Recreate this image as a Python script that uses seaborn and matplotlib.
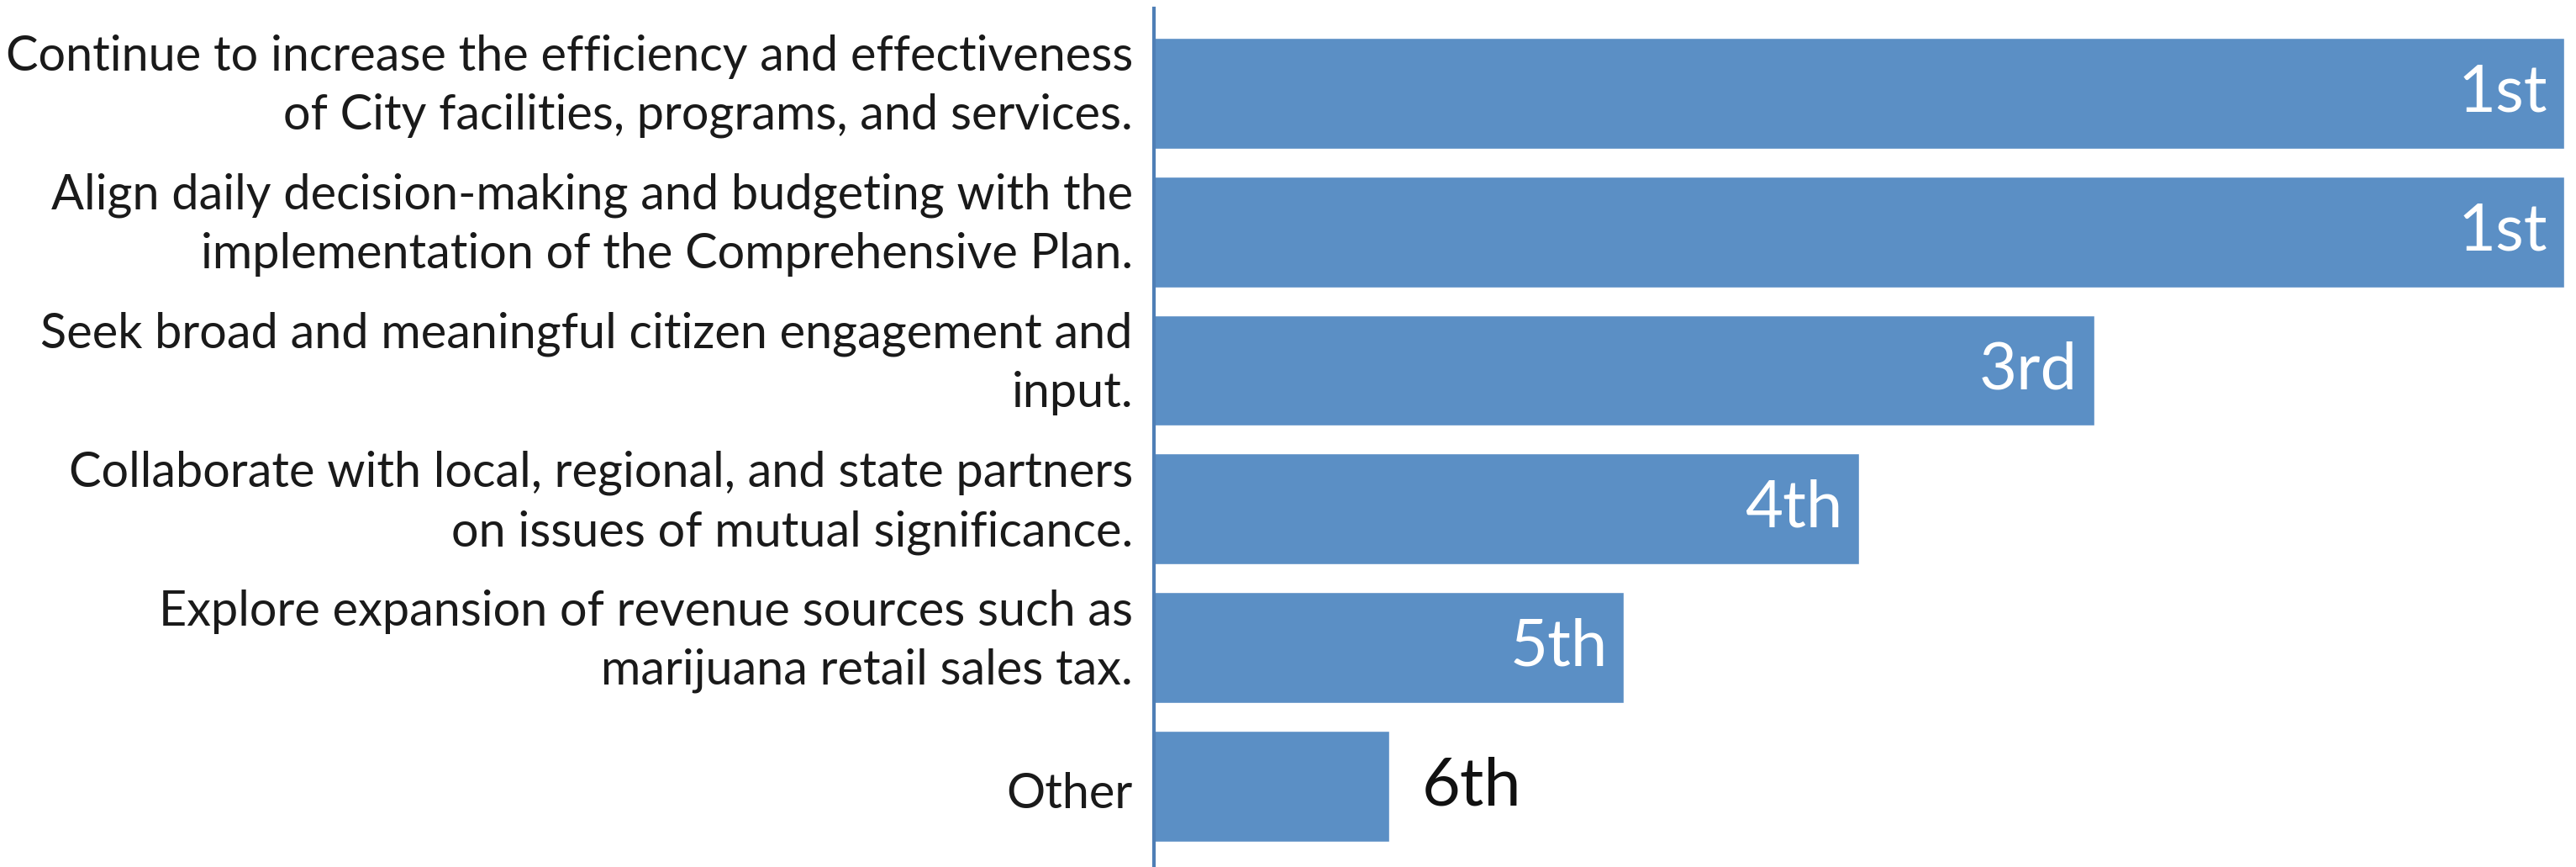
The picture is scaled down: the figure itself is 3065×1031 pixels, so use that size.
import matplotlib
matplotlib.use("Agg")
import matplotlib.pyplot as plt
import seaborn as sns
import pandas as pd

# Priority goals and their rank scores (6 = ranked first)
goals = [
    "Continue to increase the efficiency and effectiveness\nof City facilities, programs, and services.",
    "Align daily decision-making and budgeting with the\nimplementation of the Comprehensive Plan.",
    "Seek broad and meaningful citizen engagement and\ninput.",
    "Collaborate with local, regional, and state partners\non issues of mutual significance.",
    "Explore expansion of revenue sources such as\nmarijuana retail sales tax.",
    "Other",
]
scores = [6, 6, 4, 3, 2, 1]
rank_labels = ["1st", "1st", "3rd", "4th", "5th", "6th"]

df = pd.DataFrame({"goal": goals, "score": scores, "rank": rank_labels})

sns.set_theme(style="white")
plt.rcParams["font.family"] = ["Lato", "DejaVu Sans"]

BAR = "#5B8FC5"
W, H, DPI = 3065, 1031, 100
fig = plt.figure(figsize=(W / DPI, H / DPI), dpi=DPI)
ax = fig.add_axes([1373 / W, 0.0, (3051 - 1373) / W, 1 - 10 / H])

sns.barplot(data=df, y="goal", x="score", orient="h", color=BAR,
            saturation=1, width=0.8, ax=ax)

ax.set_xlim(0, 6)
ax.set_ylim(5.58, -0.61)
ax.set_xlabel("")
ax.set_ylabel("")
ax.set_xticks([])
ax.tick_params(axis="y", length=0, labelleft=False)

# Category labels, right-aligned against the axis line
for i, g in enumerate(goals):
    dy = 8 if "\n" in g else -9
    ax.annotate(g, xy=(0, i), xycoords=("axes fraction", "data"),
                xytext=(-25, dy), textcoords="offset pixels",
                ha="right", va="center", fontsize=41.5, color="#1a1a1a",
                linespacing=1.4, multialignment="right")

for s in ["top", "right", "bottom"]:
    ax.spines[s].set_visible(False)
ax.spines["left"].set_color("#4F7FB6")
ax.spines["left"].set_linewidth(3)

# Rank annotations: inside the bar end in white, or outside in black when short
for i, (v, lab) in enumerate(zip(scores, rank_labels)):
    if v >= 2:
        ax.text(v - 0.07, i, lab, ha="right", va="center", color="white",
                fontsize=56)
    else:
        ax.text(v + 0.14, i, lab, ha="left", va="center", color="#111111",
                fontsize=57)

fig.savefig("out.png", dpi=DPI, facecolor="white")
